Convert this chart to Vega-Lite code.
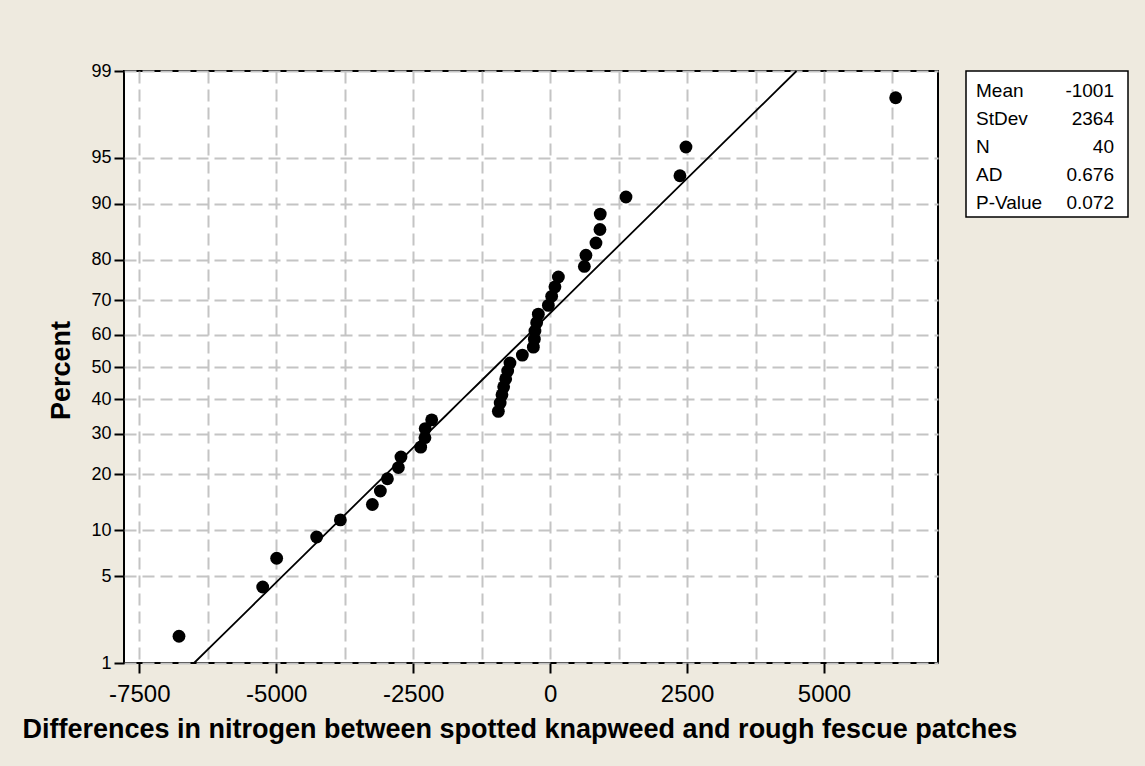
{
  "$schema": "https://vega.github.io/schema/vega-lite/v6.json",
  "background": "#EEEADF",
  "autosize": {"type": "none"},
  "padding": {"left": 124, "top": 71, "right": 1021, "bottom": 695},
  "config": {
    "font": "Liberation Sans",
    "view": {"fill": "white", "stroke": "black", "strokeWidth": 2}
  },
  "datasets": {
    "points": [
      {"x": -6775, "pct": 1.733}, {"x": -5247, "pct": 4.208}, {"x": -4992, "pct": 6.683}, {"x": -4262, "pct": 9.158},
      {"x": -3829, "pct": 11.634}, {"x": -3245, "pct": 14.109}, {"x": -3099, "pct": 16.584}, {"x": -2970, "pct": 19.059},
      {"x": -2770, "pct": 21.535}, {"x": -2723, "pct": 24.010}, {"x": -2363, "pct": 26.485}, {"x": -2285, "pct": 28.960},
      {"x": -2280, "pct": 31.436}, {"x": -2162, "pct": 33.911}, {"x": -945, "pct": 36.386}, {"x": -912, "pct": 38.861},
      {"x": -879, "pct": 41.337}, {"x": -848, "pct": 43.812}, {"x": -811, "pct": 46.287}, {"x": -775, "pct": 48.762},
      {"x": -733, "pct": 51.238}, {"x": -507, "pct": 53.713}, {"x": -306, "pct": 56.188}, {"x": -288, "pct": 58.663},
      {"x": -277, "pct": 61.139}, {"x": -246, "pct": 63.614}, {"x": -215, "pct": 66.089}, {"x": -32, "pct": 68.564},
      {"x": 28, "pct": 71.040}, {"x": 88, "pct": 73.515}, {"x": 151, "pct": 75.990}, {"x": 625, "pct": 78.465},
      {"x": 654, "pct": 80.941}, {"x": 837, "pct": 83.416}, {"x": 910, "pct": 85.891}, {"x": 915, "pct": 88.366},
      {"x": 1385, "pct": 90.842}, {"x": 2370, "pct": 93.317}, {"x": 2480, "pct": 95.792}, {"x": 6308, "pct": 98.267}
    ],
    "fit": [
      {"x": -6500, "pct": 1}, {"x": -6131, "pct": 1.5}, {"x": -5856, "pct": 2}, {"x": -5447, "pct": 3},
      {"x": -5140, "pct": 4}, {"x": -4890, "pct": 5}, {"x": -4490, "pct": 7}, {"x": -4031, "pct": 10},
      {"x": -3451, "pct": 15}, {"x": -2991, "pct": 20}, {"x": -2596, "pct": 25}, {"x": -2241, "pct": 30},
      {"x": -1912, "pct": 35}, {"x": -1600, "pct": 40}, {"x": -1298, "pct": 45}, {"x": -1001, "pct": 50},
      {"x": -704, "pct": 55}, {"x": -402, "pct": 60}, {"x": -90, "pct": 65}, {"x": 239, "pct": 70},
      {"x": 594, "pct": 75}, {"x": 989, "pct": 80}, {"x": 1449, "pct": 85}, {"x": 2029, "pct": 90},
      {"x": 2488, "pct": 93}, {"x": 2888, "pct": 95}, {"x": 3138, "pct": 96}, {"x": 3445, "pct": 97},
      {"x": 3854, "pct": 98}, {"x": 4129, "pct": 98.5}, {"x": 4498, "pct": 99}
    ],
    "stats": [
      {"stat": "Mean", "value": "-1001"},
      {"stat": "StDev", "value": "2364"},
      {"stat": "N", "value": "40"},
      {"stat": "AD", "value": "0.676"},
      {"stat": "P-Value", "value": "0.072"}
    ]
  },
  "bounds": "flush",
  "spacing": 28,
  "hconcat": [
    {
      "width": 814,
      "height": 592,
      "view": {"fill": "white", "stroke": "black", "strokeWidth": 2},
      "encoding": {
        "x": {
          "field": "x",
          "type": "quantitative",
          "scale": {"domain": [-7779, 7081], "nice": false, "zero": false},
          "axis": {
            "values": [-7500, -6250, -5000, -3750, -2500, -1250, 0, 1250, 2500, 3750, 5000, 6250],
            "labelExpr": "datum.value % 2500 === 0 ? '' + datum.value : ''",
            "tickOpacity": {"condition": {"test": "datum.value % 2500 !== 0", "value": 0}, "value": 1},
            "tickSize": 10,
            "tickWidth": 2,
            "tickColor": "black",
            "labelFont": "Liberation Sans",
            "labelFontSize": 24,
            "labelColor": "black",
            "labelPadding": 9,
            "labelFlush": false,
            "labelOverlap": false,
            "domain": false,
            "grid": true,
            "gridColor": "#C4C4C4",
            "gridDash": [12, 6],
            "gridWidth": 2,
            "title": "Differences in nitrogen between spotted knapweed and rough fescue patches",
            "titleFont": "Liberation Sans",
            "titleFontSize": 27,
            "titleFontWeight": "bold",
            "titleColor": "black",
            "titleX": -102,
            "titleY": 74,
            "titleAlign": "left",
            "titleAnchor": "start",
            "titleBaseline": "alphabetic"
          }
        },
        "y": {
          "field": "pct",
          "type": "quantitative",
          "scale": {
            "domain": [1, 1.5, 2, 3, 4, 5, 7, 10, 15, 20, 25, 30, 35, 40, 45, 50, 55, 60, 65, 70, 75, 80, 85, 90, 93, 95, 96, 97, 98, 98.5, 99],
            "range": [592, 572.1, 557.3, 535.3, 518.8, 505.3, 483.8, 459.1, 427.9, 403.1, 381.8, 362.7, 345.0, 328.2, 312.0, 296, 280.0, 263.8, 247.0, 229.3, 210.2, 188.9, 164.1, 132.9, 108.2, 86.7, 73.2, 56.7, 34.7, 19.9, 0],
            "nice": false,
            "zero": false
          },
          "axis": {
            "values": [1, 5, 10, 20, 30, 40, 50, 60, 70, 80, 90, 95, 99],
            "labelExpr": "'' + datum.value",
            "tickSize": 10,
            "tickWidth": 2,
            "tickColor": "black",
            "labelFont": "Liberation Sans",
            "labelFontSize": 18,
            "labelColor": "black",
            "labelPadding": 3,
            "labelFlush": false,
            "labelOverlap": false,
            "domain": false,
            "grid": true,
            "gridColor": "#C4C4C4",
            "gridDash": [12, 6],
            "gridWidth": 2,
            "title": "Percent",
            "titleFont": "Liberation Sans",
            "titleFontSize": 27,
            "titleFontWeight": "bold",
            "titleColor": "black",
            "titleX": -55,
            "titleY": 299,
            "titleAlign": "center",
            "titleBaseline": "alphabetic"
          }
        }
      },
      "layer": [
        {
          "data": {"name": "fit"},
          "mark": {"type": "line", "color": "black", "strokeWidth": 1.8}
        },
        {
          "data": {"name": "points"},
          "mark": {"type": "circle", "size": 165, "color": "black", "opacity": 1}
        }
      ]
    },
    {
      "width": 162,
      "height": 146,
      "data": {"name": "stats"},
      "view": {"fill": "white", "stroke": "black", "strokeWidth": 1.5},
      "encoding": {
        "y": {"field": "stat", "type": "nominal", "sort": null, "scale": {"type": "point", "padding": 0.59}, "axis": null}
      },
      "layer": [
        {
          "mark": {"type": "text", "align": "left", "baseline": "middle", "font": "Liberation Sans", "fontSize": 19, "dx": 10, "dy": 3, "color": "black"},
          "encoding": {"text": {"field": "stat"}, "x": {"value": 0}}
        },
        {
          "mark": {"type": "text", "align": "right", "baseline": "middle", "font": "Liberation Sans", "fontSize": 19, "dx": -14, "dy": 3, "color": "black"},
          "encoding": {"text": {"field": "value"}, "x": {"value": "width"}}
        }
      ]
    }
  ]
}
